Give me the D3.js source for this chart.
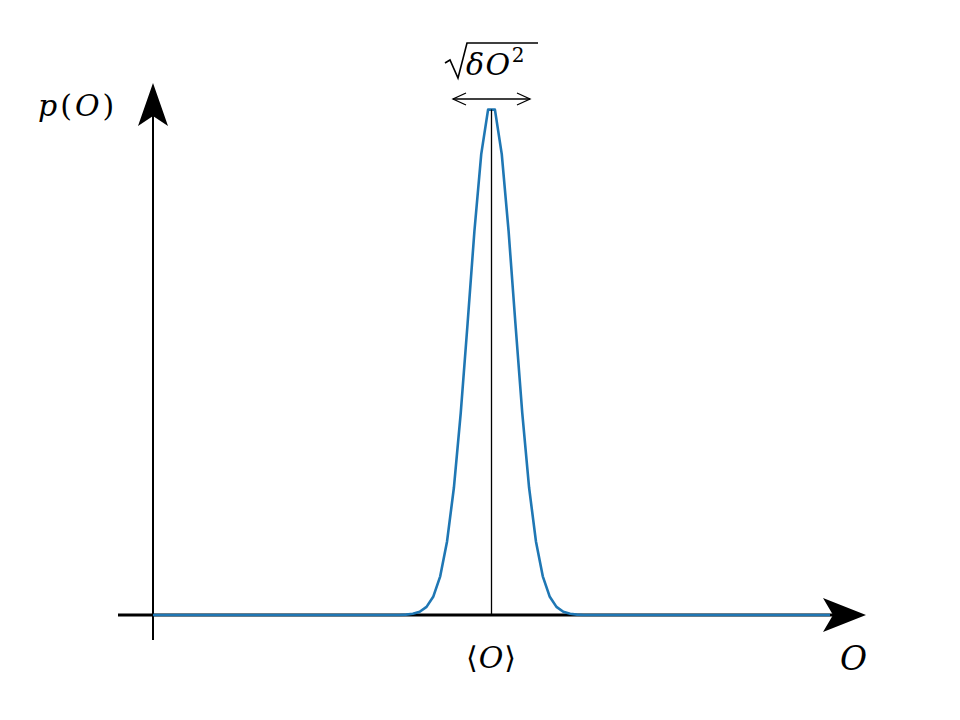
<!DOCTYPE html>
<html>
<head>
<meta charset="utf-8">
<script src="https://cdn.jsdelivr.net/npm/d3@7"></script>
<style>
  body { margin: 0; background: #fff; }
</style>
</head>
<body>
<div class="canvas"></div>
<script>
const width = 960;
const height = 720;
const serif = "'DejaVu Serif', serif";

// sampled density p(O), 100 samples, peak between samples 49 and 50
const sampleIndex = d3.range(100);
const density = [
  0, 0, 0, 0, 0, 0, 0, 0, 0, 0,
  0, 0, 0, 0, 0, 0, 0, 0, 0, 0,
  0, 0, 0, 0, 0, 0, 0, 0, 0, 0,
  0, 0, 0, 0, 0, 0, 0, 0.0008, 0.0023, 0.0063,
  0.0159, 0.0363, 0.0756, 0.144, 0.249, 0.395, 0.570, 0.751, 0.902, 0.989,
  0.989, 0.902, 0.751, 0.570, 0.395, 0.249, 0.144, 0.0756, 0.0363, 0.0159,
  0.0063, 0.0023, 0.0008, 0, 0, 0, 0, 0, 0, 0,
  0, 0, 0, 0, 0, 0, 0, 0, 0, 0,
  0, 0, 0, 0, 0, 0, 0, 0, 0, 0,
  0, 0, 0, 0, 0, 0, 0, 0, 0, 0
];
const meanIndex = 49.5;

// labels: [text, italic?] pieces
const yLabel = [["p", true], ["(", false], ["O", true], [")", false]];
const xLabel = [["O", true]];
const meanLabel = [["\u27E8", false], ["O", true], ["\u27E9", false]];

const svg = d3.select(".canvas")
  .append("svg")
  .attr("width", width)
  .attr("height", height);

// scales
const xScale = d3.scaleLinear()
  .domain([0, 99])
  .range([153, 830]);

const yScale = d3.scaleLinear()
  .domain([0, 1])
  .range([615, 104]);

const x0 = xScale(0);
const y0 = yScale(0);

// x axis line + arrow
svg.append("line")
  .attr("x1", 118).attr("x2", 840)
  .attr("y1", y0).attr("y2", y0)
  .attr("stroke", "#000")
  .attr("stroke-width", 3);

svg.append("path")
  .attr("d", `M${866},${y0} L${823},${y0 - 17} L${833},${y0} L${823},${y0 + 17} Z`)
  .attr("fill", "#000");

// y axis line + arrow
svg.append("line")
  .attr("x1", x0).attr("x2", x0)
  .attr("y1", 640).attr("y2", 115)
  .attr("stroke", "#000")
  .attr("stroke-width", 2);

svg.append("path")
  .attr("d", `M${x0},${83} L${x0 - 15},${126} L${x0},${116} L${x0 + 15},${126} Z`)
  .attr("fill", "#000");

// the curve
const line = d3.line()
  .x(i => xScale(i))
  .y(i => yScale(density[i]));

svg.append("path")
  .datum(sampleIndex)
  .attr("d", line)
  .attr("fill", "none")
  .attr("stroke", "#1f77b4")
  .attr("stroke-width", 2.6)
  .attr("stroke-linejoin", "round");

// mean marker
const xm = xScale(meanIndex);
svg.append("line")
  .attr("x1", xm).attr("x2", xm)
  .attr("y1", yScale(0.989)).attr("y2", y0)
  .attr("stroke", "#000")
  .attr("stroke-width", 1.3);

// width arrow (<->)
const ya = 99;
const xl = 453, xr = 530;
svg.append("line")
  .attr("x1", xl).attr("x2", xr)
  .attr("y1", ya).attr("y2", ya)
  .attr("stroke", "#000")
  .attr("stroke-width", 1.3);
svg.append("path")
  .attr("d", `M${xl + 13},${ya - 6} L${xl},${ya} L${xl + 13},${ya + 6} M${xr - 13},${ya - 6} L${xr},${ya} L${xr - 13},${ya + 6}`)
  .attr("fill", "none")
  .attr("stroke", "#000")
  .attr("stroke-width", 1.3);

// helper: write a label made of roman / italic pieces
function label(x, y, size, pieces, anchor, spacing) {
  const t = svg.append("text")
    .attr("x", x)
    .attr("y", y)
    .attr("font-family", serif)
    .attr("font-size", size)
    .attr("letter-spacing", spacing || 0)
    .attr("text-anchor", anchor || "start");
  pieces.forEach(p => {
    t.append("tspan")
      .attr("font-style", p[1] ? "italic" : "normal")
      .text(p[0]);
  });
  return t;
}

// sqrt(dO^2) label
svg.append("path")
  .attr("d", "M445,63 L450,60 L458,78 L467,43 L538,43")
  .attr("fill", "none")
  .attr("stroke", "#000")
  .attr("stroke-width", 1.6);

const sq = label(466, 75, 30, [["\u03B4O", true]], "start", 1.5);
sq.append("tspan")
  .attr("font-size", 20)
  .attr("dy", -13)
  .text("2");

// y label
label(38, 116, 30, yLabel, "start", 3);

// x label
label(840, 670, 33, xLabel);

// mean label
label(xm, 668, 30, meanLabel, "middle", 1);
</script>
</body>
</html>
